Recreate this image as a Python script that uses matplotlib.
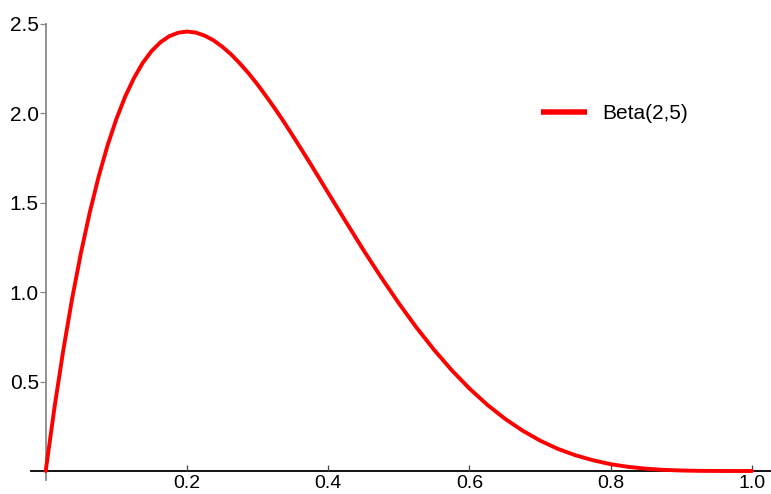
import matplotlib.pyplot as plt

# Beta(2,5) density, values
x_vals = [0.0, 0.0125, 0.025, 0.0375, 0.05, 0.0625, 0.075, 0.0875, 0.1,
          0.1125, 0.125, 0.1375, 0.15, 0.1625, 0.175, 0.1875, 0.2,
          0.2125, 0.225, 0.2375, 0.25, 0.2625, 0.275, 0.2875, 0.3,
          0.3125, 0.325, 0.3375, 0.35, 0.3625, 0.375, 0.3875, 0.4,
          0.425, 0.45, 0.475, 0.5, 0.525, 0.55, 0.575, 0.6, 0.625, 0.65,
          0.675, 0.7, 0.725, 0.75, 0.775, 0.8, 0.825, 0.85, 0.875, 0.9,
          0.925, 0.95, 0.975, 1.0]
y_vals = [0.0, 0.357, 0.678, 0.966, 1.222, 1.448, 1.647, 1.820, 1.968,
          2.094, 2.198, 2.283, 2.349, 2.398, 2.432, 2.451, 2.458,
          2.452, 2.435, 2.409, 2.373, 2.330, 2.279, 2.223, 2.161,
          2.094, 2.024, 1.951, 1.874, 1.796, 1.717, 1.636, 1.555,
          1.394, 1.235, 1.083, 0.938, 0.802, 0.677, 0.563, 0.461, 0.371, 0.293,
          0.226, 0.170, 0.124, 0.088, 0.060, 0.038, 0.023, 0.013, 0.0064, 0.0027,
          0.0009, 0.0002, 0.0, 0.0]
x_ticks = [0.2, 0.4, 0.6, 0.8, 1.0]
y_ticks = [0.5, 1.0, 1.5, 2.0, 2.5]
series_name = "Beta(2,5)"

plt.rcParams['font.family'] = ['Liberation Sans', 'DejaVu Sans']

W, H = 771, 494
fig = plt.figure(figsize=(W / 100, H / 100), dpi=100)
x0, x1 = 45.7, 752.0
y0, y1 = 471.0, 24.0
ax = fig.add_axes([x0 / W, 1 - y0 / H, (x1 - x0) / W, (y0 - y1) / H])
ax.set_xlim(0, 1)
ax.set_ylim(0, 2.5)

for s in ax.spines.values():
    s.set_visible(False)

# mathematica-like axes crossing at origin
ax.plot([-0.021, 1.03], [0, 0], color='black', lw=1.3, clip_on=False, zorder=1)
ax.plot([0, 0], [-0.052, 2.5], color='#888888', lw=1.3, clip_on=False, zorder=1)

ax.plot(x_vals, y_vals, color='#ff0000', lw=2.8, clip_on=False, zorder=3,
        solid_capstyle='round', solid_joinstyle='round', label=series_name)

ax.set_xticks(x_ticks)
ax.set_xticklabels([f"{t:.1f}" for t in x_ticks])
ax.set_yticks(y_ticks)
ax.set_yticklabels([f"{t:.1f}" for t in y_ticks])
ax.tick_params(axis='x', direction='in', length=4, width=0.9, color='#444444',
               pad=3, labelsize=14)
ax.tick_params(axis='y', direction='out', length=4, width=0.9, color='#888888',
               pad=1, labelsize=15)

leg = ax.legend(loc='center left', bbox_to_anchor=(0.701, 0.799), frameon=False,
                fontsize=15, handlelength=2.2, handletextpad=0.75,
                borderaxespad=0, borderpad=0)
for line in leg.get_lines():
    line.set_linewidth(4)
    line.set_solid_capstyle('butt')

fig.savefig('out.png', dpi=100)
